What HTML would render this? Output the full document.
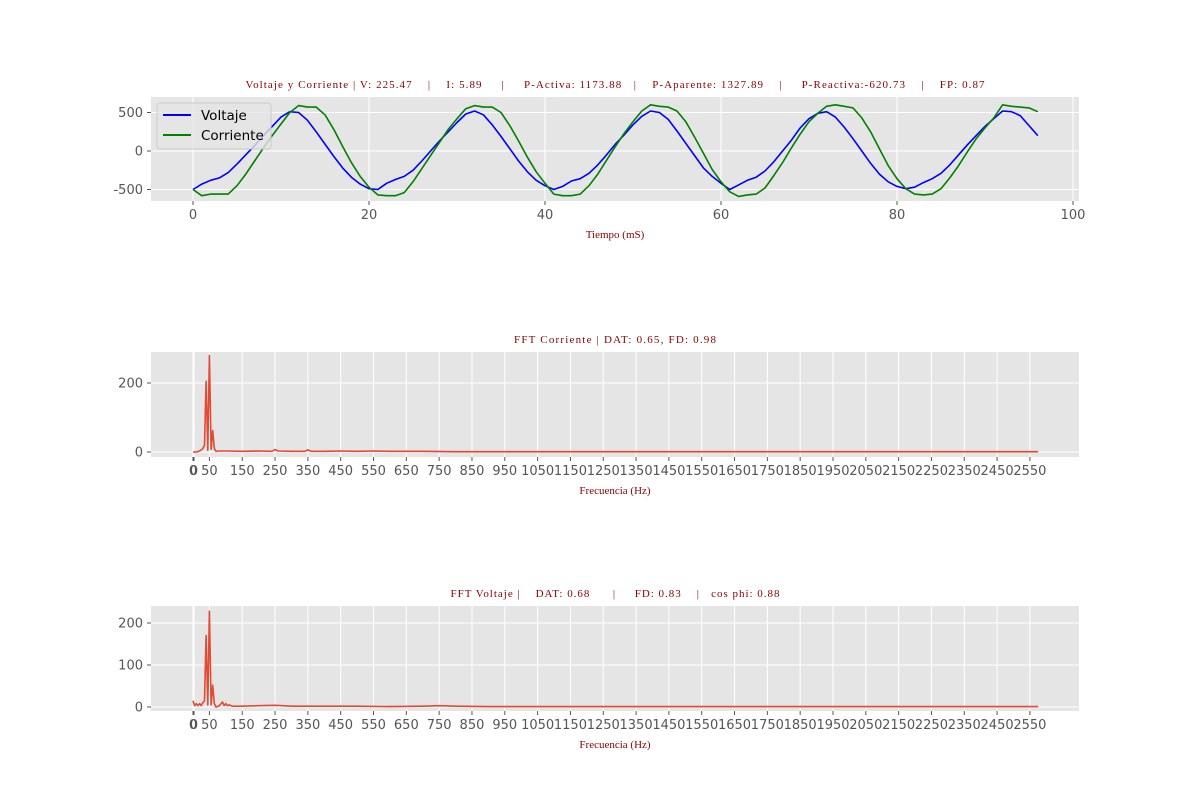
<!DOCTYPE html>
<html><head><meta charset="utf-8"><style>
body{margin:0;background:#fff;width:1200px;height:800px;overflow:hidden}
svg text{font-family:"DejaVu Sans","Liberation Sans",sans-serif}
.t{font-family:"Liberation Serif",serif;fill:#8b0000;font-size:11px;white-space:pre}
</style></head><body>
<svg id="c" width="1200" height="800" xmlns="http://www.w3.org/2000/svg"></svg>
<script>
const time=[];for(let i=0;i<=96;i++)time.push(i);
const voltage=[-500,-430,-380,-350,-280,-170,-50,70,200,320,440,510,500,400,250,90,-70,-220,-340,-430,-490,
-500,-420,-370,-330,-250,-130,0,130,250,370,480,520,470,340,190,30,-130,-270,-380,-450,
-500,-460,-390,-360,-290,-180,-50,90,210,340,450,520,500,410,260,100,-60,-220,-330,-420,
-500,-440,-380,-340,-260,-140,0,140,300,420,490,510,440,310,160,0,-160,-300,-400,-460,
-490,-470,-410,-360,-290,-180,-50,80,200,320,420,520,510,460,330,200];
const current=[-500,-580,-560,-560,-560,-450,-300,-130,40,200,350,500,590,570,570,470,280,60,-150,-330,-470,
-570,-580,-580,-540,-400,-230,-60,110,280,420,550,590,570,570,500,330,130,-80,-270,-420,
-560,-580,-580,-560,-450,-300,-120,60,230,380,520,600,580,570,520,380,180,-30,-240,-400,
-530,-590,-570,-560,-480,-320,-150,40,220,380,490,580,600,580,560,430,250,30,-190,-360,
-490,-560,-570,-560,-490,-350,-190,-10,160,300,430,600,580,570,560,510];
const fftFreqI=[0,10,20,30,35,40,45,50,55,60,65,70,80,100,150,200,240,250,260,300,340,350,360,400,450,500,550,600,700,800,900,1000,1200,1400,1600,1800,2000,2200,2400,2575];
const fftCurrent=[0,0,3,10,20,205,5,280,8,62,10,2,3,3,2,3,2,7,3,2,2,6,2,2,3,2,3,2,2,1,1,1,1,1,1,1,1,1,1,1];
const fftFreqV=[0,5,10,15,20,25,30,35,40,45,50,55,60,65,70,80,90,95,100,105,110,120,150,200,250,300,400,500,600,700,750,800,900,1000,1200,1400,1600,1800,2000,2200,2400,2575];
const fftVoltage=[15,3,8,3,8,3,10,15,170,5,228,5,52,8,0,3,12,3,8,3,5,2,2,3,4,2,2,2,1,2,3,2,1,1,1,1,1,1,1,1,1,1];
const ticksTop=[0,20,40,60,80,100];
const ticksYTop=[500,0,-500];
const ticksF=[0,0,50];for(let f=150;f<=2550;f+=100)ticksF.push(f);
const ticksYI=[200,0];
const ticksYV=[200,100,0];
const NS="http://www.w3.org/2000/svg";
const svg=document.getElementById('c');
function mk(tag,at,parent,txt){const e=document.createElementNS(NS,tag);for(const k in at)e.setAttribute(k,at[k]);if(txt!==undefined)e.textContent=txt;(parent||svg).appendChild(e);return e;}
function panel(name,x0,x1,y0,y1,sx,sy,xt,yt,title,tlen,xlabel,series){
  const g=mk('g',{});
  
  
  const bg=mk('rect',{x:x0,y:y0,width:x1-x0,height:y1-y0,fill:'#e5e5e5'},g);
  
  
  xt.forEach((v,i)=>{const X=sx(v)+(i==1&&v==0&&xt[0]==0?1:0);
    mk('line',{x1:X,x2:X,y1:y0,y2:y1,stroke:'#fff','stroke-width':1},g);
    mk('line',{x1:X,x2:X,y1:y1,y2:y1+4,stroke:'#555','stroke-width':1},g);
    const t=mk('text',{x:X,y:y1+18,'text-anchor':'middle','font-size':13,fill:'#555'},g,v);
    
    });
  yt.forEach(v=>{const Y=sy(v);
    mk('line',{x1:x0,x2:x1,y1:Y,y2:Y,stroke:'#fff','stroke-width':1},g);
    mk('line',{x1:x0-4,x2:x0,y1:Y,y2:Y,stroke:'#555','stroke-width':1},g);
    const t=mk('text',{x:x0-8,y:Y+4.5,'text-anchor':'end','font-size':13,fill:'#555'},g,v<0?'-'+(-v):v);
    
    });
  series.forEach(s=>{const d=s.x.map((v,i)=>(i?'L':'M')+sx(v).toFixed(1)+','+sy(s.y[i]).toFixed(1)).join('');
    const p=mk('path',{d:d,fill:'none',stroke:s.c,'stroke-width':1.6,'stroke-linejoin':'round'},g);
    
    });
  const tt=mk('text',{x:(x0+x1)/2,y:y0-9,'text-anchor':'middle','class':'t',textLength:tlen,lengthAdjust:'spacing'},g,title);
  
  
  const xl=mk('text',{x:(x0+x1)/2,y:y1+37,'text-anchor':'middle','class':'t'},g,xlabel);
  
  
  return g;}
panel('voltage-current-panel',151,1079,97,201,v=>193+v*8.8,v=>151-v*0.077,ticksTop,ticksYTop,
 'Voltaje y Corriente | V: 225.47    |    I: 5.89     |     P-Activa: 1173.88   |    P-Aparente: 1327.89    |     P-Reactiva:-620.73    |    FP: 0.87',739,'Tiempo (mS)',
 [{x:time,y:voltage,c:'#0000ff',n:'voltage-line'},{x:time,y:current,c:'#008000',n:'current-line'}]);
const lg=mk('g',{});


mk('rect',{x:157,y:103,width:114,height:46,rx:3,fill:'#e5e5e5','fill-opacity':0.8,stroke:'#ccc'},lg);
mk('line',{x1:163,x2:191,y1:115,y2:115,stroke:'#0000ff','stroke-width':2},lg);
mk('line',{x1:163,x2:191,y1:135,y2:135,stroke:'#008000','stroke-width':2},lg);
const l1=mk('text',{x:201,y:120,'font-size':13.5,fill:'#000'},lg,'Voltaje');


const l2=mk('text',{x:201,y:140,'font-size':13.5,fill:'#000'},lg,'Corriente');


panel('fft-current-panel',151,1079,352,457,v=>193+v*0.3282,v=>452-v*0.345,ticksF,ticksYI,
 'FFT Corriente | DAT: 0.65, FD: 0.98',202,'Frecuencia (Hz)',[{x:fftFreqI,y:fftCurrent,c:'#e24a33',n:'fft-current-line'}]);
panel('fft-voltage-panel',151,1079,606,711,v=>193+v*0.3282,v=>707-v*0.42,ticksF,ticksYV,
 'FFT Voltaje |    DAT: 0.68      |     FD: 0.83    |   cos phi: 0.88',329,'Frecuencia (Hz)',[{x:fftFreqV,y:fftVoltage,c:'#e24a33',n:'fft-voltage-line'}]);
</script>
</body></html>
